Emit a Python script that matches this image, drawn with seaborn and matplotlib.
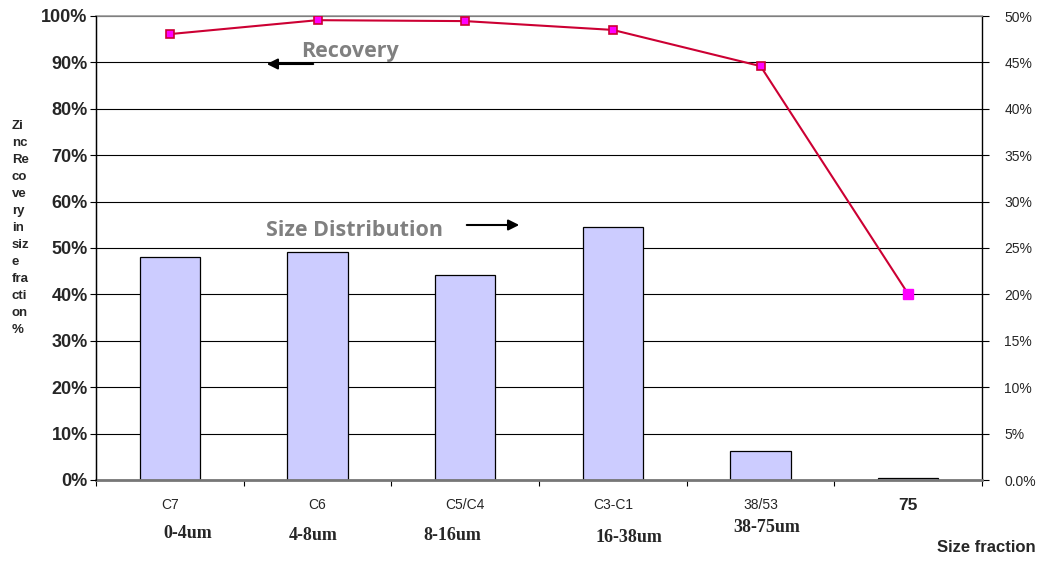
import numpy as np
import pandas as pd
import seaborn as sns
import matplotlib.pyplot as plt
from matplotlib.ticker import MultipleLocator, FixedLocator, FuncFormatter, PercentFormatter
import matplotlib.transforms as mtransforms

categories = ['C7', 'C6', 'C5/C4', 'C3-C1', '38/53', '75']
size_ranges = ['0-4um', '4-8um', '8-16um', '16-38um', '38-75um']
size_dist = [0.240, 0.246, 0.221, 0.273, 0.031, 0.002]   # right axis
recovery = [0.961, 0.991, 0.989, 0.970, 0.892, 0.401]    # left axis

sns.set_style('white')
plt.rcParams['font.family'] = ['Liberation Sans', 'DejaVu Sans']

fig = plt.figure(figsize=(10.43, 5.62), dpi=100)
ax = fig.add_axes([96 / 1043, 82 / 562, 886 / 1043, 464 / 562])
ax2 = ax.twinx()

# bars -> size distribution (right scale)
sns.barplot(x=categories, y=size_dist, ax=ax, color='#CCCCFF', saturation=1,
            edgecolor='black', linewidth=0.9, width=0.41)
# line -> recovery (left scale)
sns.pointplot(x=categories, y=recovery, ax=ax2, color='#CC0033', markers='s',
              linestyles='-', linewidth=1.5, markersize=5.5,
              markerfacecolor='#FF00FF', markeredgecolor='#CC0033',
              markeredgewidth=1.2)
# last point has no dark edge in the original
ax2.plot([len(recovery) - 1], [recovery[-1]], 's', color='#FF00FF', markersize=7)

ax.set_xlim(-0.5, 5.5)
ax.set_ylim(0, 0.5)
ax2.set_ylim(0, 1)
ax.set_xlabel('')
ax.set_ylabel('')
ax2.set_ylabel('')

# right axis (bars)
ax.yaxis.tick_right()
ax.yaxis.set_major_locator(MultipleLocator(0.05))
ax.yaxis.set_major_formatter(FuncFormatter(lambda v, _: '0.0%' if v == 0 else f'{v * 100:.0f}%'))
ax.tick_params(axis='y', which='major', direction='out', length=5, width=0.8,
               color='black', labelsize=10, pad=11, right=True, left=False)
ax.yaxis.grid(True, color='black', linewidth=0.8)
ax.set_axisbelow(True)

# left axis (recovery)
ax2.yaxis.tick_left()
ax2.yaxis.set_major_locator(MultipleLocator(0.1))
ax2.yaxis.set_major_formatter(PercentFormatter(1.0, decimals=0))
ax2.tick_params(axis='y', direction='out', length=4, width=0.8, color='black',
                labelsize=13, pad=2, left=True, right=False)
for lbl in ax2.get_yticklabels():
    lbl.set_fontweight('bold')

# x axis
ax.set_xticks(range(len(categories)))
ax.set_xticklabels(categories)
ax.xaxis.set_minor_locator(FixedLocator(np.arange(-0.5, 6, 1.0)))
ax.tick_params(axis='x', which='major', length=0, labelsize=10, pad=13)
ax.tick_params(axis='x', which='minor', direction='out', length=4, width=0.8,
               color='black', bottom=True)
xl = ax.get_xticklabels()
xl[-1].set_fontweight('bold')
xl[-1].set_fontsize(12.5)

for s in ['top', 'left', 'right', 'bottom']:
    ax.spines[s].set_visible(True)
ax.spines['top'].set_color('#999999')
ax.spines['top'].set_linewidth(1.2)
ax.spines['bottom'].set_color('#777777')
ax.spines['bottom'].set_linewidth(2)
ax.spines['right'].set_color('black')
ax.spines['right'].set_linewidth(1)
ax.spines['left'].set_color('black')
ax.spines['left'].set_linewidth(1)
for s in ['top', 'right', 'bottom']:
    ax2.spines[s].set_visible(False)
ax2.spines['left'].set_color('black')

# second row of x labels (size ranges)
trans = mtransforms.blended_transform_factory(ax.transData, fig.transFigure)
offsets = [0.12, -0.03, -0.09, 0.11, 0.04]
ypix = [533, 536, 536, 538, 527]
for i, lab in enumerate(size_ranges):
    ax.text(i + offsets[i], 1 - ypix[i] / 562, lab, transform=trans,
            ha='center', va='center', fontfamily='Liberation Serif',
            fontweight='bold', fontsize=13)

fig.text(1036 / 1043, 1 - 547 / 562, 'Size fraction', ha='right', va='center',
         fontweight='bold', fontsize=12)

ylab = 'Zi\nnc\nRe\nco\nve\nry\nin\nsiz\ne\nfra\ncti\non\n%'
fig.text(12 / 1043, 1 - 228 / 562, ylab, ha='left', va='center',
         fontweight='bold', fontsize=9.5, linespacing=1.55)

# annotations with arrows
fig.text(350 / 1043, 1 - 51 / 562, 'Recovery', ha='center', va='center',
         color='#808080', fontweight='bold', fontsize=15.5, fontfamily='Open Sans')
fig.text(355 / 1043, 1 - 231 / 562, 'Size Distribution', ha='center', va='center',
         color='#808080', fontweight='bold', fontsize=15.5, fontfamily='Open Sans')
ax.annotate('', xy=(264, 562 - 64), xytext=(316, 562 - 64), xycoords='figure pixels',
            textcoords='figure pixels',
            arrowprops=dict(arrowstyle='-|>', color='black', lw=1.5, mutation_scale=16))
ax.annotate('', xy=(522, 562 - 225), xytext=(464, 562 - 225), xycoords='figure pixels',
            textcoords='figure pixels',
            arrowprops=dict(arrowstyle='-|>', color='black', lw=1.5, mutation_scale=16))

fig.savefig('out.png', dpi=100)
